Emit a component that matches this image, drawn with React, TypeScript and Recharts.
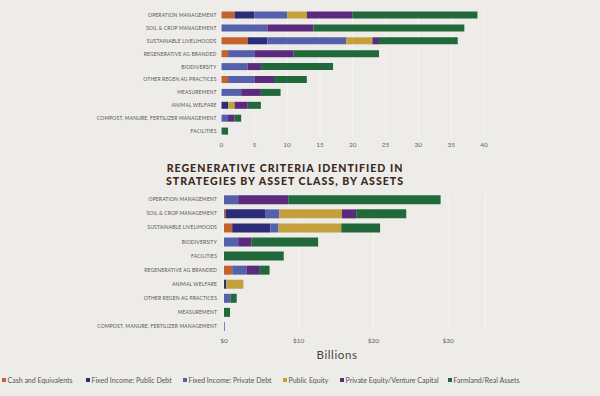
import React from "react";
import { BarChart, Bar, XAxis, YAxis, CartesianGrid } from "recharts";

// ---------- Top chart: counts of strategies ----------
const topCategories = [
  "OPERATION MANAGEMENT",
  "SOIL & CROP MANAGEMENT",
  "SUSTAINABLE LIVELIHOODS",
  "REGENERATIVE AG BRANDED",
  "BIODIVERSITY",
  "OTHER REGEN AG PRACTICES",
  "MEASUREMENT",
  "ANIMAL WELFARE",
  "COMPOST, MANURE, FERTILIZER MANAGEMENT",
  "FACILITIES",
];
const topCash = [2, 0, 4, 1, 0, 1, 0, 0, 0, 0];
const topPubDebt = [3, 0, 3, 0, 0, 0, 0, 1, 0, 0];
const topPrivDebt = [5, 7, 12, 4, 4, 4, 3, 0, 1, 0];
const topPubEq = [3, 0, 4, 0, 0, 0, 0, 1, 0, 0];
const topPE = [7, 7, 1, 6, 2, 3, 3, 2, 1, 0];
const topFarm = [19, 23, 12, 13, 11, 5, 3, 2, 1, 1];
const topTicks = [0, 5, 10, 15, 20, 25, 30, 35, 40];

// ---------- Bottom chart: assets, billions ----------
const bottomCategories = [
  "OPERATION MANAGEMENT",
  "SOIL & CROP MANAGEMENT",
  "SUSTAINABLE LIVELIHOODS",
  "BIODIVERSITY",
  "FACILITIES",
  "REGENERATIVE AG BRANDED",
  "ANIMAL WELFARE",
  "OTHER REGEN AG PRACTICES",
  "MEASUREMENT",
  "COMPOST, MANURE, FERTILIZER MANAGEMENT",
];
const botCash = [0, 0.2, 1.1, 0, 0, 1.1, 0, 0, 0, 0];
const botPubDebt = [0, 5.3, 5.1, 0, 0, 0, 0.3, 0, 0, 0];
const botPrivDebt = [1.9, 1.9, 1.1, 1.9, 0, 1.9, 0, 0.85, 0, 0.1];
const botPubEq = [0, 8.4, 8.4, 0, 0, 0, 2.3, 0, 0, 0];
const botPE = [6.7, 1.9, 0, 1.8, 0, 1.7, 0, 0, 0, 0];
const botFarm = [20.4, 6.7, 5.2, 8.9, 8.0, 1.4, 0, 0.85, 0.8, 0];
const botTicks = [0, 10, 20, 30];

const seriesNames = [
  "Cash and Equivalents",
  "Fixed Income: Public Debt",
  "Fixed Income: Private Debt",
  "Public Equity",
  "Private Equity/Venture Capital",
  "Farmland/Real Assets",
];
const seriesKeys = ["cash", "pubDebt", "privDebt", "pubEq", "pe", "farm"];
const seriesColors = ["#c5622c", "#2b2d78", "#5560ad", "#c4a03c", "#5b2a7c", "#21683a"];
const legendLefts = [2, 86, 183, 283, 340, 448];

const buildRows = (cats: string[], cols: number[][]) =>
  cats.map((name, i) => {
    const row: any = { name };
    seriesKeys.forEach((k, j) => {
      row[k] = cols[j][i];
    });
    return row;
  });

const topData = buildRows(topCategories, [topCash, topPubDebt, topPrivDebt, topPubEq, topPE, topFarm]);
const botData = buildRows(bottomCategories, [botCash, botPubDebt, botPrivDebt, botPubEq, botPE, botFarm]);

const BG = "#edece8";
const FONT = "Lato, 'Open Sans', sans-serif";
const numTick = { fontSize: 6.5, fill: "#666", fontFamily: FONT };

const CatTick = (props: any) => {
  const { x, y, payload } = props;
  return (
    <text
      x={x}
      y={y}
      dy={2}
      textAnchor="end"
      fontSize={5.0}
      fill="#555"
      fontFamily={FONT}
      letterSpacing={0.15}
    >
      {payload.value}
    </text>
  );
};

export default function App() {
  return (
    <div
      style={{
        position: "absolute",
        left: 0,
        top: 0,
        width: 600,
        height: 396,
        background: BG,
        overflow: "hidden",
        fontFamily: FONT,
      }}
    >
      <div style={{ position: "absolute", left: 0, top: 0 }}>
        <BarChart
          width={600}
          height={155}
          data={topData}
          layout="vertical"
          margin={{ top: 8.5, right: 116, bottom: 0, left: 0 }}
          barSize={7}
        >
          <CartesianGrid horizontal={false} vertical={true} stroke="#f7f6f3" strokeWidth={1} />
          <XAxis
            type="number"
            domain={[0, 40]}
            ticks={topTicks}
            axisLine={false}
            tickLine={false}
            tickSize={0}
            tickMargin={5}
            height={17.5}
            tick={numTick}
          />
          <YAxis
            type="category"
            dataKey="name"
            width={221.5}
            axisLine={false}
            tickLine={false}
            tickSize={0}
            tickMargin={5}
            interval={0}
            tick={<CatTick />}
          />
          {seriesKeys.map((k, j) => (
            <Bar key={k} dataKey={k} stackId="a" fill={seriesColors[j]} isAnimationActive={false} />
          ))}
        </BarChart>
      </div>

      <div
        style={{
          position: "absolute",
          left: 0,
          top: 162,
          width: 570,
          textAlign: "center",
          fontWeight: 900,
          fontSize: 10.6,
          letterSpacing: 1,
          lineHeight: "13.3px",
          color: "#3b2a22",
          fontFamily: FONT,
        }}
      >
        REGENERATIVE CRITERIA IDENTIFIED IN
        <br />
        STRATEGIES BY ASSET CLASS, BY ASSETS
      </div>

      <div style={{ position: "absolute", left: 0, top: 185 }}>
        <BarChart
          width={600}
          height={160}
          data={botData}
          layout="vertical"
          margin={{ top: 7.3, right: 114.6, bottom: 0, left: 0 }}
          barSize={9}
        >
          <CartesianGrid horizontal={false} vertical={true} stroke="#f5f4f1" strokeWidth={1} />
          <XAxis
            type="number"
            domain={[0, 35]}
            ticks={botTicks}
            tickFormatter={(v: number) => `$${v}`}
            axisLine={false}
            tickLine={false}
            tickSize={0}
            tickMargin={5}
            height={12}
            tick={numTick}
          />
          <YAxis
            type="category"
            dataKey="name"
            width={224}
            axisLine={false}
            tickLine={false}
            tickSize={0}
            tickMargin={7}
            interval={0}
            tick={<CatTick />}
          />
          {seriesKeys.map((k, j) => (
            <Bar key={k} dataKey={k} stackId="b" fill={seriesColors[j]} isAnimationActive={false} />
          ))}
        </BarChart>
      </div>

      <div
        style={{
          position: "absolute",
          left: 287,
          top: 348,
          width: 100,
          textAlign: "center",
          fontSize: 11.5,
          letterSpacing: 0.6,
          color: "#4a4340",
          fontFamily: FONT,
        }}
      >
        Billions
      </div>

      {seriesNames.map((n, j) => (
        <div
          key={n}
          style={{
            position: "absolute",
            left: legendLefts[j],
            top: 376,
            display: "flex",
            alignItems: "center",
            fontSize: 7,
            color: "#555",
            fontFamily: FONT,
            whiteSpace: "nowrap",
          }}
        >
          <span
            style={{
              display: "inline-block",
              width: 4,
              height: 4,
              background: seriesColors[j],
              marginRight: 1.5,
            }}
          />
          {n}
        </div>
      ))}
    </div>
  );
}
